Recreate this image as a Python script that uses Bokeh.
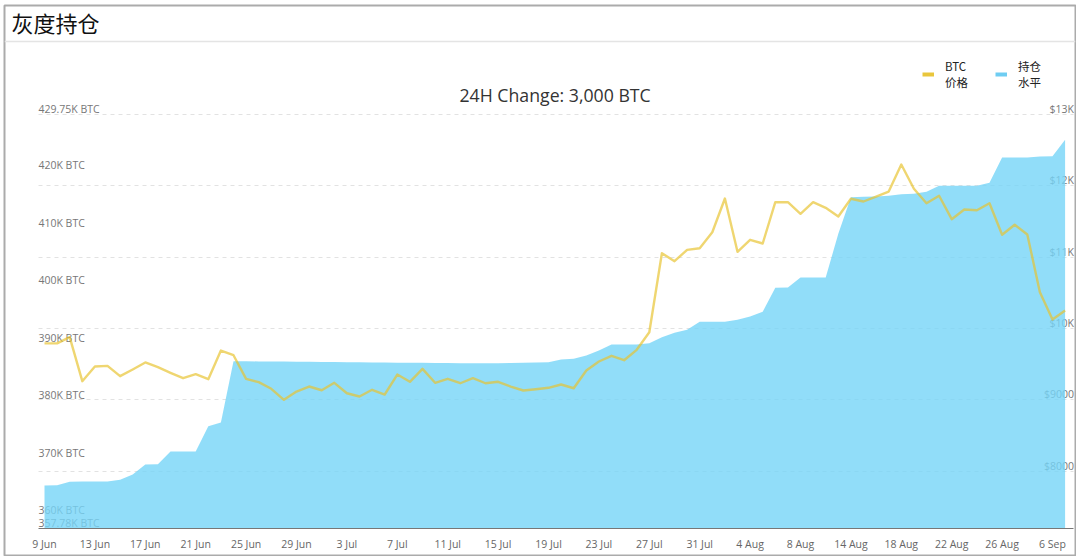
from bokeh.plotting import figure
from bokeh.embed import file_html
from bokeh.resources import INLINE
from bokeh.core.properties import value
from bokeh.models import (ColumnDataSource, Range1d, FixedTicker, LinearAxis, Grid, Span, Label,
                          Legend, LegendItem)

dates = {0:"9 Jun",4:"13 Jun",8:"17 Jun",12:"21 Jun",16:"25 Jun",20:"29 Jun",24:"3 Jul",28:"7 Jul",
         32:"11 Jul",36:"15 Jul",40:"19 Jul",44:"23 Jul",48:"27 Jul",52:"31 Jul",56:"4 Aug",60:"8 Aug",
         64:"14 Aug",68:"18 Aug",72:"22 Aug",76:"26 Aug",80:"6 Sep"}

price = [9790,9790,9877,9260,9466,9475,9330,9424,9522,9456,9377,9302,9358,9288,9690,9624,9293,9246,9153,8999,
         9115,9185,9133,9237,9091,9045,9139,9073,9353,9251,9433,9237,9293,9231,9302,9231,9251,9185,9129,9147,
         9167,9213,9161,9410,9536,9616,9554,9700,9947,11055,10943,11102,11125,11349,11822,11074,11243,11191,11770,11770,
         11607,11770,11691,11569,11818,11780,11850,11920,12299,11958,11756,11860,11532,11668,11658,11756,11313,11453,11317,10508,
         10125,10251]

holdings = [365.26,365.31,365.90,365.95,365.95,365.95,366.25,367.17,368.91,368.96,371.17,371.17,371.17,375.57,376.21,386.87,
            386.85,386.83,386.82,386.80,386.78,386.76,386.74,386.72,386.70,386.68,386.66,386.62,386.60,386.60,386.58,386.56,
            386.55,386.53,386.52,386.52,386.53,386.55,386.60,386.63,386.69,387.16,387.28,387.86,388.73,389.77,389.77,389.77,
            389.99,391.04,391.80,392.32,393.72,393.72,393.72,394.06,394.64,395.45,399.63,399.68,401.42,401.42,401.42,409.01,
            415.38,415.45,415.50,415.62,415.90,415.97,416.32,417.36,417.36,417.36,417.36,417.88,422.28,422.28,422.28,422.45,
            422.50,425.36]

left_ticks = [429.75,420,410,400,390,380,370,360,357.78]
left_labels = ["429.75K BTC","420K BTC","410K BTC","400K BTC","390K BTC","380K BTC","370K BTC","360K BTC","357.78K BTC"]
right_ticks = [13000,12000,11000,10000,9000,8000]
right_labels = ["$13K","$12K","$11K","$10K","$9000","$8000"]

idx = list(range(len(price)))
FONT = "Noto Sans CJK SC"
LABEL = "Open Sans"

p = figure(width=1076, height=556, output_backend="svg", toolbar_location=None,
           x_range=Range1d(-3.175, 81.825), y_range=Range1d(6815, 14529),
           x_axis_type=None, y_axis_type=None, min_border=0, min_border_left=4, min_border_right=1,
           min_border_top=5, min_border_bottom=1)
p.extra_y_ranges = {"hold": Range1d(353.09, 448.70)}
p.outline_line_color = "#ababab"
p.outline_line_width = 2
p.background_fill_color = "white"

grid = Grid(dimension=1, ticker=FixedTicker(ticks=right_ticks), grid_line_color="#e2e2e2",
            grid_line_dash=[4, 4], grid_line_width=1, level="underlay", cross_bounds=(-0.48, 81.7))
p.add_layout(grid)

xaxis = LinearAxis(ticker=FixedTicker(ticks=list(dates.keys())), major_label_overrides=dates,
                   fixed_location=7194, axis_line_color="#777777", axis_line_width=1,
                   major_tick_line_color=None, minor_tick_line_color=None,
                   major_label_text_color="#666666", major_label_text_font=LABEL,
                   major_label_text_font_size="10.5px", major_label_standoff=3,
                   bounds=(-0.48, 81.7))
p.add_layout(xaxis, "below")

# tick labels sit above their tick positions and under the translucent area
src_l = ColumnDataSource(dict(x=[-0.48]*len(left_ticks), y=left_ticks, t=left_labels))
src_r = ColumnDataSource(dict(x=[81.7]*len(right_ticks), y=right_ticks, t=right_labels))
r_l = p.text("x", "y", "t", source=src_l, y_range_name="hold", text_font=value(LABEL), text_font_size="10.5px",
             text_color="#777777", text_align="left", text_baseline="middle", y_offset=-5.5)
r_r = p.text("x", "y", "t", source=src_r, text_font=value(LABEL), text_font_size="10.5px",
             text_color="#777777", text_align="right", text_baseline="middle", y_offset=-5.5)

src = ColumnDataSource(dict(i=idx, price=price, hold=holdings, base=[357.78]*len(idx)))
area = p.varea("i", "base", "hold", source=src, y_range_name="hold", fill_color="#75D4F7", fill_alpha=0.8)
line = p.line("i", "price", source=src, line_color="#E8C22E", line_alpha=0.68, line_width=2.4, line_join="round")

# legend proxies carry the thick swatches; their data is blank so they draw nothing in the chart
blank = ColumnDataSource(dict(x=[float("nan")], y=[float("nan")]))
sw1 = p.line("x", "y", source=blank, line_color="#E9C63C", line_width=4)
sw2 = p.line("x", "y", source=blank, line_color="#6FCDF2", line_width=4)
legend = Legend(items=[LegendItem(label="BTC\n价格", renderers=[sw1]), LegendItem(label="持仓\n水平", renderers=[sw2])],
                orientation="horizontal", location=(918, 465), glyph_width=12, glyph_height=14,
                label_text_font=FONT, label_text_font_size="11.5px", label_text_color="#222222",
                label_text_line_height=1.0,
                label_standoff=11, spacing=27, border_line_color=None, background_fill_alpha=0,
                padding=0, margin=0)
p.add_layout(legend, "center")

p.add_layout(Span(location=14024, dimension="width", line_color="#e4e4e4", line_width=1.5))

p.add_layout(Label(x=7, y=534, x_units="screen", y_units="screen", text="灰度持仓", text_font=FONT,
                   text_font_size="22px", text_color="#111111", text_baseline="middle"))
p.add_layout(Label(x=455, y=461, x_units="screen", y_units="screen", text="24H Change: 3,000 BTC", text_font=LABEL,
                   text_font_size="17.7px", text_color="#333333", text_baseline="middle"))

open("out.html", "w").write(file_html(p, INLINE))
